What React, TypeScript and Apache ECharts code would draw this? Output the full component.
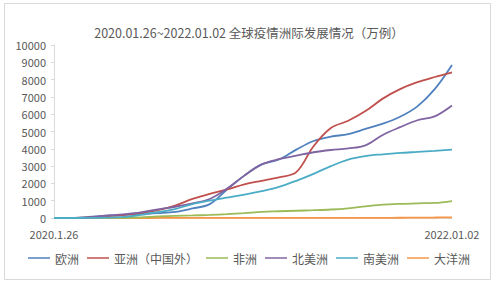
import React, { useEffect, useRef } from "react";
import * as echarts from "echarts";

const categories = [
  "2020.1.26", "2020.03.01", "2020.04.01", "2020.05.01", "2020.06.01", "2020.07.01",
  "2020.08.01", "2020.09.01", "2020.10.01", "2020.11.01", "2020.12.01", "2021.01.01",
  "2021.02.01", "2021.03.01", "2021.04.01", "2021.05.01", "2021.06.01", "2021.07.01",
  "2021.08.01", "2021.09.01", "2021.10.01", "2021.11.01", "2021.12.01", "2022.01.02",
];

const europe = [0, 5, 60, 130, 180, 230, 280, 350, 550, 800, 1650, 2450, 3100, 3380, 3950, 4450, 4700, 4850, 5150, 5450, 5850, 6450, 7450, 8850];
const asia = [0, 5, 30, 100, 170, 280, 450, 720, 1100, 1400, 1650, 1950, 2150, 2350, 2650, 4150, 5200, 5620, 6180, 6900, 7450, 7850, 8150, 8420];
const africa = [0, 0, 1, 4, 12, 40, 90, 125, 148, 175, 220, 280, 355, 390, 420, 450, 490, 560, 670, 770, 820, 850, 870, 980];
const northAmerica = [0, 5, 30, 130, 210, 320, 500, 650, 850, 1100, 1700, 2450, 3100, 3400, 3600, 3800, 3930, 4020, 4200, 4800, 5250, 5650, 5870, 6500];
const southAmerica = [0, 0, 5, 20, 60, 180, 340, 520, 800, 1000, 1180, 1350, 1550, 1800, 2150, 2550, 3000, 3380, 3580, 3680, 3760, 3820, 3880, 3950];
const oceania = [0, 0, 0, 1, 1, 1, 2, 3, 3, 3, 3, 3, 3, 3, 3, 3, 4, 4, 6, 9, 15, 22, 30, 40];

const seriesNames = ["欧洲", "亚洲（中国外）", "非洲", "北美洲", "南美洲", "大洋洲"];
const seriesData = [europe, asia, africa, northAmerica, southAmerica, oceania];
const colors = ["#4F81BD", "#C0504D", "#9BBB59", "#8064A2", "#4BACC6", "#F79646"];

const FONT = "'Noto Sans CJK SC', 'Noto Sans', sans-serif";

export default function App() {
  const ref = useRef<HTMLDivElement>(null);
  useEffect(() => {
    if (!ref.current) return;
    const chart = echarts.init(ref.current, null, { renderer: "svg" });
    const last = categories.length - 1;
    chart.setOption({
      animation: false,
      backgroundColor: "#ffffff",
      color: colors,
      title: {
        text: "2020.01.26~2022.01.02 全球疫情洲际发展情况（万例）",
        left: "center",
        top: 21,
        textStyle: { fontFamily: FONT, fontSize: 12.5, fontWeight: "normal", color: "#595959" },
      },
      graphic: [
        {
          type: "rect",
          shape: { x: 4.5, y: 3.5, width: 486, height: 276 },
          style: { fill: "none", stroke: "#d9d9d9", lineWidth: 1 },
          silent: true,
          z: -1,
        },
      ],
      grid: { left: 54, right: 46, top: 45, bottom: 66 },
      legend: {
        bottom: 15,
        left: "center",
        itemWidth: 22,
        itemHeight: 1.5,
        itemGap: 8,
        icon: "rect",
        textStyle: { fontFamily: FONT, fontSize: 12, color: "#595959" },
        data: seriesNames,
      },
      xAxis: {
        type: "category",
        data: categories,
        boundaryGap: false,
        axisLine: { lineStyle: { color: "#d9d9d9" } },
        axisTick: { show: false },
        axisLabel: {
          interval: (i: number) => i === 0 || i === last,
          margin: 10,
          fontFamily: FONT,
          fontSize: 11,
          color: "#595959",
          showMinLabel: true,
          showMaxLabel: true,
        },
        splitLine: { show: false },
      },
      yAxis: {
        type: "value",
        min: 0,
        max: 10000,
        interval: 1000,
        axisLine: { show: true, lineStyle: { color: "#d9d9d9" } },
        axisTick: { show: true, length: 3, lineStyle: { color: "#d9d9d9" } },
        axisLabel: {
          margin: 8,
          fontFamily: FONT,
          fontSize: 11,
          color: "#595959",
          formatter: (v: number) => String(v),
        },
        splitLine: { show: false },
      },
      series: seriesNames.map((name, i) => ({
        name,
        type: "line",
        data: seriesData[i],
        smooth: 0.35,
        showSymbol: false,
        symbol: "none",
        lineStyle: { width: 1.8, color: colors[i] },
        itemStyle: { color: colors[i] },
        z: i === 5 ? 1 : 2,
      })),
    });
    return () => chart.dispose();
  }, []);
  return (
    <div
      ref={ref}
      style={{ position: "fixed", left: 0, top: 0, width: 498, height: 284 }}
    />
  );
}
